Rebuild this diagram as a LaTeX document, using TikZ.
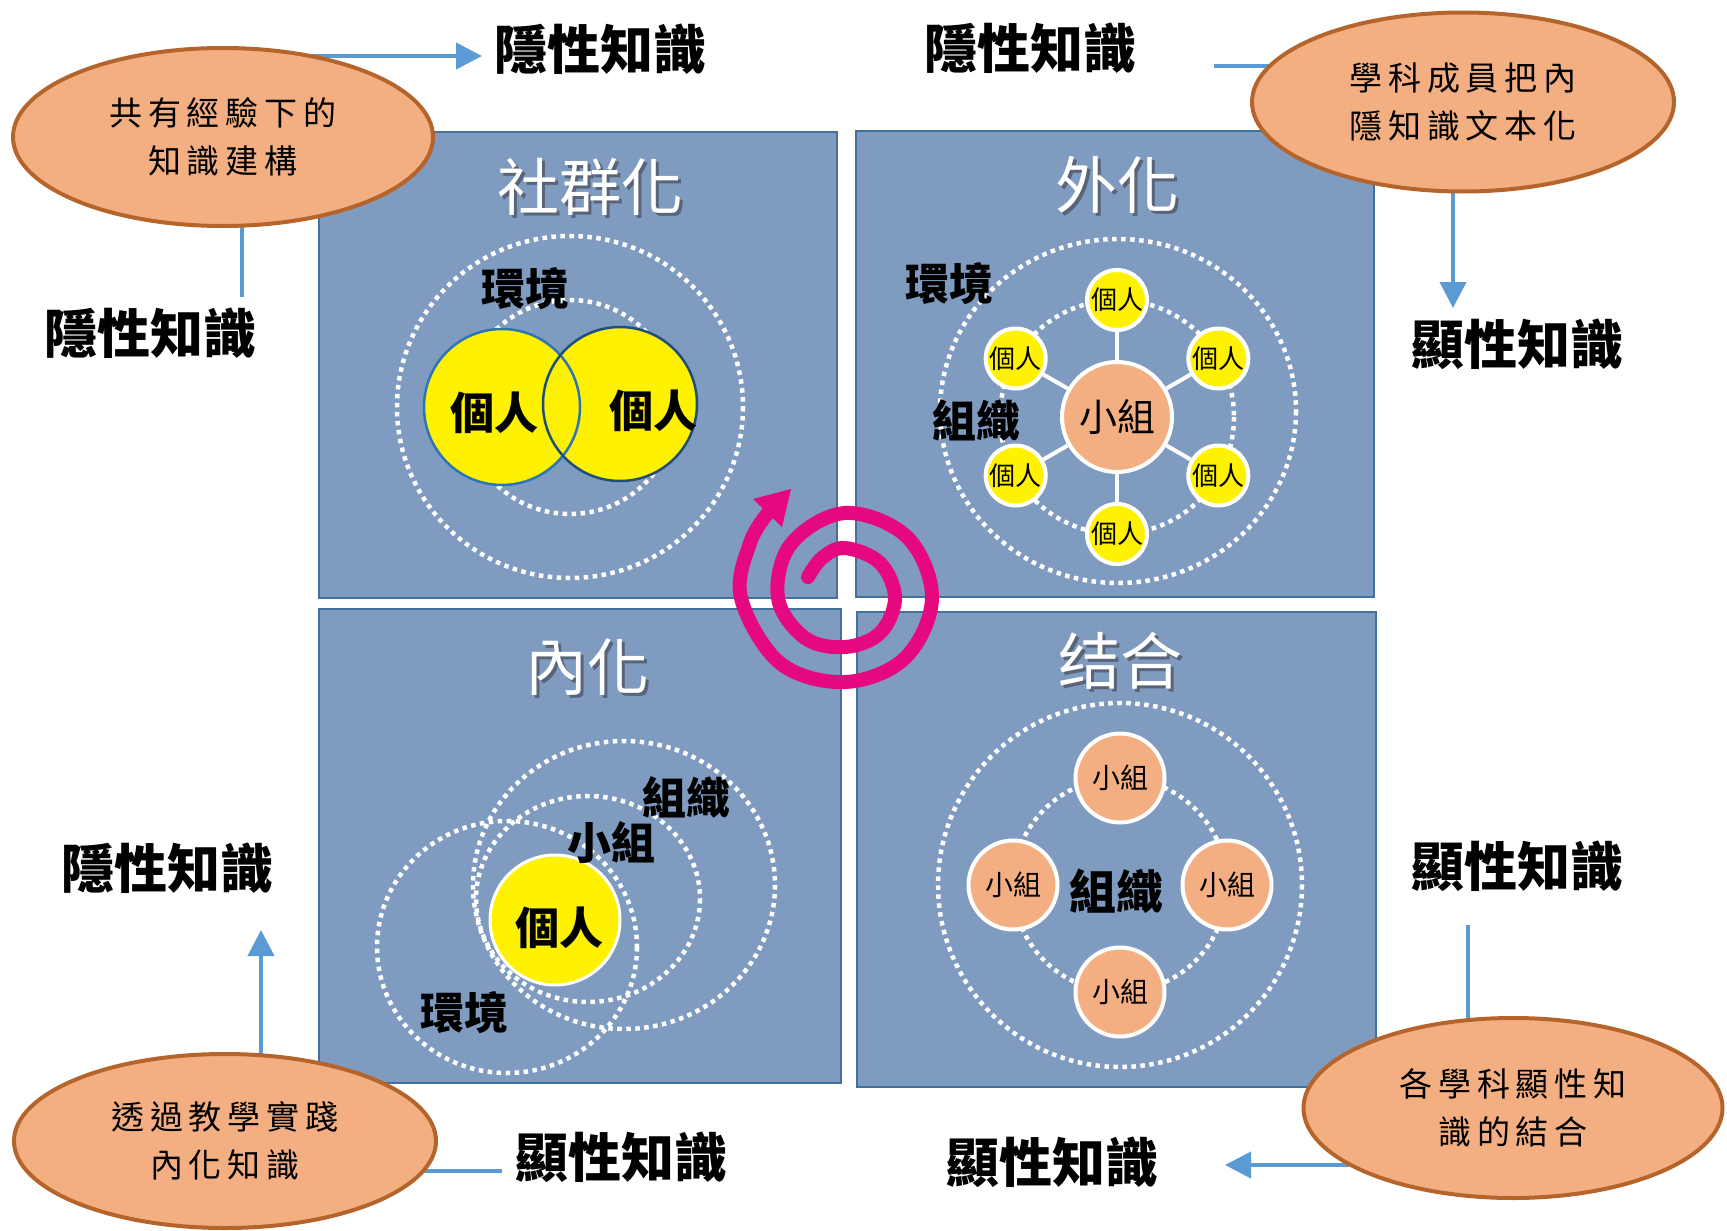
\documentclass[tikz,border=0pt]{standalone}
\usepackage{fontspec}
\setmainfont{Noto Sans CJK TC}
\newfontfamily\notefam[LetterSpace=18]{Noto Sans CJK TC}
\usetikzlibrary{shapes.geometric,arrows.meta,backgrounds,calc}

\definecolor{boxfill}{HTML}{7F9BC0}
\definecolor{boxline}{HTML}{41719C}
\definecolor{notefill}{HTML}{F3AF82}
\definecolor{noteline}{HTML}{B5652B}
\definecolor{flowblue}{HTML}{5B9BD5}
\definecolor{spiralpink}{HTML}{E6087F}
\definecolor{leftedge}{HTML}{2E75B6}
\definecolor{rightedge}{HTML}{1F4E79}
\definecolor{titleshade}{HTML}{5A6478}

\newcommand{\kwfont}{\fontsize{53}{60}\selectfont\bfseries}
\newcommand{\notefont}{\notefam\fontsize{33}{48}\selectfont}
\newcommand{\headfont}{\fontsize{62}{70}\selectfont}
\newcommand{\tagfont}{\fontsize{44}{50}\selectfont\bfseries}
\newcommand{\headshadow}[1]{\makebox[0pt][l]{\hspace{3pt}\raisebox{-3pt}{\color{titleshade}#1}}#1}

\tikzset{
  quad/.style={draw=boxline, fill=boxfill, line width=2.5pt},
  note/.style={ellipse, draw=noteline, fill=notefill, line width=4pt, inner sep=0pt, align=center, font=\notefont},
  kw/.style={inner sep=0pt, font=\kwfont},
  head/.style={inner sep=0pt, text=white, font=\headfont},
  tag/.style={inner sep=0pt, font=\tagfont},
  ring/.style={draw=white, line width=4.5pt, dash pattern=on 4.5pt off 4.5pt},
  flow/.style={draw=flowblue, line width=4pt},
  flowarr/.style={flow, -{Triangle[length=26pt,width=26pt]}},
  person/.style={circle, fill=yellow, draw=white, line width=4pt, inner sep=0pt, minimum size=60pt, font=\fontsize{26}{30}\selectfont},
  team/.style={circle, fill=notefill, draw=white, line width=4pt, inner sep=0pt, minimum size=89pt, font=\fontsize{28}{32}\selectfont},
}

\begin{document}
\begin{tikzpicture}[x=1pt, y=-1pt]
    \useasboundingbox (0,0) rectangle (1727,1231);
    \path[quad] (319,132) rectangle (837,598);
    \path[quad] (856,131) rectangle (1374,597);
    \path[quad] (319,609) rectangle (841,1083);
    \path[quad] (857,612) rectangle (1376,1087);

    \node[head] (hTL) at (590,188) {\headshadow{社群化}};
    \node[head] (hTR) at (1117,186) {\headshadow{外化}};
    \node[head] (hBL) at (587,669) {\headshadow{內化}};
    \node[head] (hBR) at (1120,662) {\headshadow{结合}};

    % socialisation
    \draw[ring] (570,407) ellipse[x radius=173, y radius=171];
    \draw[ring] (570,407) circle[radius=107];
    \node[circle, fill=yellow, minimum size=156pt, inner sep=0pt] (yL) at (502,407) {};
    \node[circle, fill=yellow, minimum size=154pt, inner sep=0pt] (yR) at (620,404) {};
    \draw[leftedge, line width=2.5pt] (yL.center) circle[radius=78];
    \draw[rightedge, line width=2.5pt] (yR.center) circle[radius=77];
    \node[tag] (envA) at (525,289) {環境};
    \node[tag] (selfA) at (494,413) {個人};
    \node[tag] (selfB) at (653,411) {個人};

    % externalisation
    \draw[ring] (1118,411) ellipse[x radius=178, y radius=172];
    \draw[ring] (1117,417) circle[radius=117];
    \node[circle, fill=notefill, draw=white, line width=4pt, minimum size=110pt, inner sep=0pt, font=\fontsize{38}{42}\selectfont] (grp) at (1117,417) {小組};
    \foreach \a [count=\i] in {-90,-30,30,90,150,210}{
      \node[person] (s\i) at ($(grp.center)+(\a:117)$) {個人};
      \draw[white, line width=4pt] (grp) -- (s\i);
    }
    \node[tag] (envB) at (949,284) {環境};
    \node[tag] (orgB) at (976,420) {組織};

    % internalisation
    \draw[ring] (507,947) ellipse[x radius=130, y radius=126];
    \draw[ring] (624,885) ellipse[x radius=151, y radius=144];
    \draw[ring] (588,899) ellipse[x radius=112, y radius=103];
    \node[circle, fill=yellow, draw=white, line width=3pt, minimum size=130pt, inner sep=0pt] (yC) at (555,920) {};
    \node[tag] (selfC) at (559,928) {個人};
    \node[tag] (orgC) at (686,797) {組織};
    \node[tag] (grpC) at (611,843) {小組};
    \node[tag] (envC) at (464,1013) {環境};

    % combination
    \draw[ring] (1120,885) circle[radius=182];
    \draw[ring] (1120,885) circle[radius=107];
    \foreach \a [count=\i] in {-90,0,90,180}
      \node[team] (t\i) at ($(1120,885)+(\a:107)$) {小組};
    \node[tag, font=\fontsize{47}{52}\selectfont\bfseries] (orgD) at (1116,891) {組織};

    \draw[spiralpink, line width=14pt, line cap=round]
      plot[smooth, tension=0.6] coordinates {(808,577) (822,558) (845,548) (880,563) (895,598)
      (880,633) (845,647) (805,638) (778,598) (791,544) (845,513) (907,537) (932,598)
      (905,658) (845,682) (780,663) (741,598) (750,543) (768,513)};
    \fill[spiralpink] (753,499) -- (791,489) -- (782,527) -- cycle;

    \node[note, minimum width=420pt, minimum height=178pt] (eTL) at (223,137) {共有經驗下的\\知識建構};
    \node[note, minimum width=422pt, minimum height=179pt] (eTR) at (1463,102) {學科成員把內\\隱知識文本化};
    \node[note, minimum width=422pt, minimum height=174pt] (eBL) at (225,1141) {透過教學實踐\\內化知識};
    \node[note, minimum width=419pt, minimum height=180pt] (eBR) at (1513,1108) {各學科顯性知\\識的結合};

    \node[kw] (kT1) at (600,49) {隱性知識};
    \node[kw] (kT2) at (1030,48) {隱性知識};
    \node[kw] (kL1) at (150,333) {隱性知識};
    \node[kw] (kR1) at (1517,344) {顯性知識};
    \node[kw] (kL2) at (167,868) {隱性知識};
    \node[kw] (kR2) at (1517,866) {顯性知識};
    \node[kw] (kB1) at (621,1157) {顯性知識};
    \node[kw] (kB2) at (1052,1162) {顯性知識};

    \coordinate (tipTL) at (482,56);
    \coordinate (endTL) at (242,297);
    \coordinate (endTR) at (1214,66);
    \coordinate (tipTR) at (1453,308);
    \coordinate (endBR) at (1468,925);
    \coordinate (tipBR) at (1225,1165);
    \coordinate (tipBL) at (261,930);
    \coordinate (endBL) at (502,1171);
    \begin{scope}[on background layer]
      \draw[flowarr] (eTL.center |- tipTL) -- (tipTL);
      \draw[flow] (endTL |- eTL.center) -- (endTL);
      \draw[flow] (endTR) -- (endTR -| eTR.center);
      \draw[flowarr] (tipTR |- eTR.center) -- (tipTR);
      \draw[flow] (endBR) -- (endBR |- eBR.center);
      \draw[flowarr] (tipBR -| eBR.center) -- (tipBR);
      \draw[flowarr] (tipBL |- eBL.center) -- (tipBL);
      \draw[flow] (endBL) -- (endBL -| eBL.center);
    \end{scope}
  \end{tikzpicture}
\end{document}
